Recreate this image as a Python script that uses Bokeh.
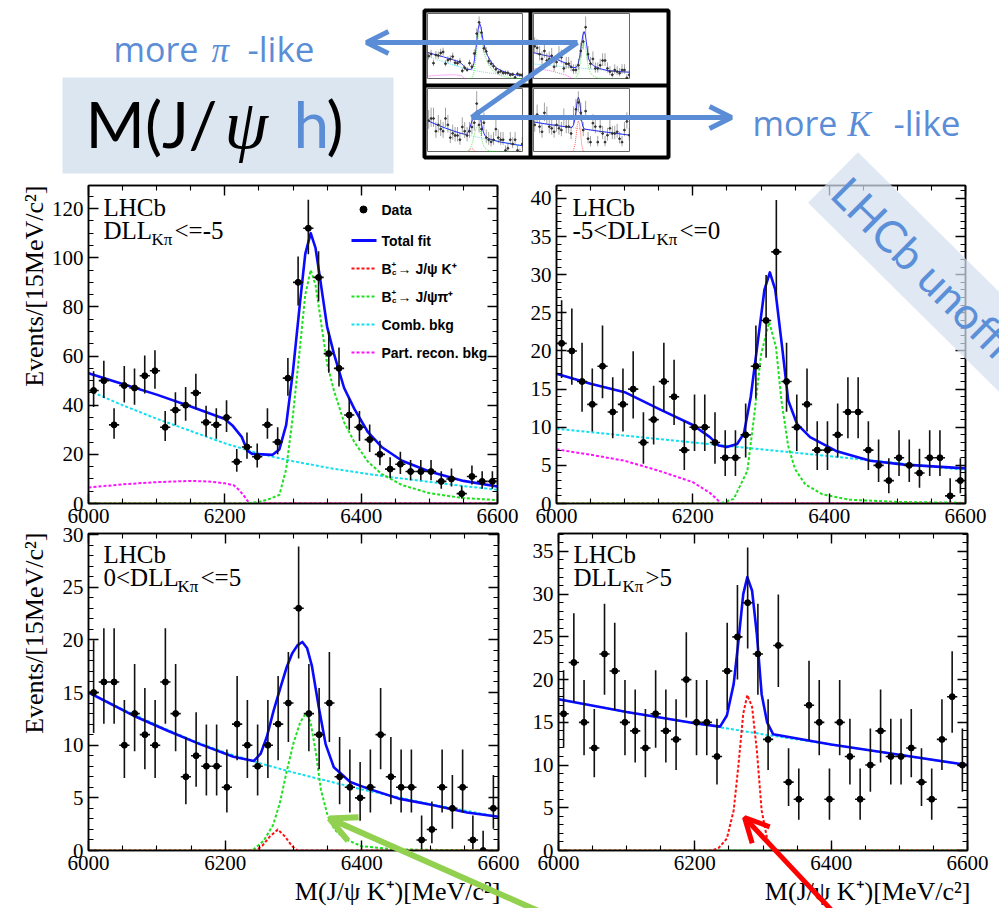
import numpy as np
from bokeh.plotting import figure
from bokeh.models import (Range1d, LinearAxis, SingleIntervalTicker, Label, Arrow,
                          OpenHead, Column)
from bokeh.embed import file_html
from bokeh.resources import INLINE

# ---------------- data ----------------
mass_bins = [6007.5, 6022.5, 6037.5, 6052.5, 6067.5, 6082.5, 6097.5, 6112.5, 6127.5, 6142.5,
             6157.5, 6172.5, 6187.5, 6202.5, 6217.5, 6232.5, 6247.5, 6262.5, 6277.5, 6292.5,
             6307.5, 6322.5, 6337.5, 6352.5, 6367.5, 6382.5, 6397.5, 6412.5, 6427.5, 6442.5,
             6457.5, 6472.5, 6487.5, 6502.5, 6517.5, 6532.5, 6547.5, 6562.5, 6577.5, 6592.5]
bin_half_width = 7.5

counts_p1 = [46, 50, 32, 48, 47, 52, 54, 31, 38, 40, 45, 33, 32, 35, 17, 23, 19, 32, 25, 51,
             90, 112, 92, 61, 55, 36, 31, 26, 20, 14, 16, 13, 13, 13, 9, 10, 4, 11, 9, 9]
counts_p2 = [21, 20, 16, 13, 18, 12, 13, 15, 8, 11, 16, 14, 7, 10, 10, 8, 6, 6, 9, 18,
             24, 33, 16, 10, 13, 7, 7, 9, 12, 12, 7, 5, 3, 6, 5, 4, 6, 6, 1, 3]
counts_p3 = [15, 16, 16, 10, 13, 11, 10, 16, 13, 7, 9, 8, 8, 6, 12, 10, 8, 10, 12, 14,
             23, 13, 11, 14, 7, 6, 5, 6, 11, 7, 6, 6, 1, 2, 6, 4, 6, 1, 0, 4]
counts_p4 = [16, 22, 15, 12, 23, 21, 15, 14, 12, 16, 14, 13, 20, 15, 15, 11, 21, 25, 29, 23,
             13, 24, 8, 6, 17, 15, 6, 15, 11, 6, 10, 14, 11, 11, 12, 8, 6, 13, 18, 10]

# panel 1 (DLL <= -5)
fit_p1_x = [6000, 6050, 6100, 6150, 6200, 6212, 6225, 6233, 6240, 6255, 6270, 6280, 6290, 6300, 6310,
            6318, 6326, 6333, 6340, 6350, 6360, 6375, 6390, 6410, 6430, 6460, 6500, 6550, 6600]
fit_p1_y = [53, 48.6, 44.3, 39.5, 34.4, 31.5, 27, 21.5, 20.2, 20, 19.8, 22, 32, 54, 81,
            101.6, 110, 104, 91, 72, 61, 47, 38.5, 29, 23, 17.4, 13, 9.2, 6.9]
comb_p1_x = [6000, 6050, 6100, 6150, 6200, 6250, 6300, 6350, 6400, 6450, 6500, 6550, 6600]
comb_p1_y = [46, 40, 34.5, 29.5, 24.5, 20.3, 17.2, 14.6, 12.4, 10.5, 8.8, 7.1, 5.6]
part_p1_x = [6000, 6050, 6100, 6150, 6180, 6200, 6213, 6222, 6230, 6236, 6600]
part_p1_y = [6.5, 7.8, 8.7, 9.2, 8.9, 8.2, 7.4, 5.2, 2.4, 0, 0]
pi_p1_x = [6000, 6230, 6250, 6265, 6280, 6290, 6300, 6310, 6318, 6326, 6333, 6340, 6350, 6360,
           6375, 6390, 6410, 6430, 6460, 6500, 6550, 6600]
pi_p1_y = [0, 0, 0.6, 1.8, 3.5, 14, 36, 63, 85, 95, 89, 76, 57, 46, 33, 25, 17, 12, 7.5, 4.2, 2.2, 1.4]
k_p1_x = [6000, 6600]
k_p1_y = [0, 0]

# panel 2 (-5 < DLL <= 0)
fit_p2_x = [6000, 6050, 6100, 6150, 6200, 6225, 6238, 6250, 6265, 6275, 6285, 6295, 6305, 6313,
            6321, 6331, 6340, 6353, 6372, 6410, 6460, 6510, 6600]
fit_p2_y = [17, 15.7, 14.6, 12.4, 10.3, 8.7, 7.6, 7.4, 7.8, 9.2, 14, 21, 28, 30.3,
            28, 20.5, 13.5, 10.4, 8.7, 6.9, 5.6, 5.1, 4.6]
comb_p2_x = [6000, 6100, 6200, 6300, 6400, 6500, 6600]
comb_p2_y = [9.8, 8.9, 8.0, 7.1, 6.2, 5.3, 4.4]
part_p2_x = [6000, 6050, 6100, 6150, 6200, 6225, 6242, 6600]
part_p2_y = [7.1, 6.4, 5.6, 4.3, 2.8, 1.4, 0, 0]
pi_p2_x = [6000, 6240, 6260, 6280, 6290, 6300, 6312, 6322, 6330, 6340, 6350, 6365, 6390, 6430, 6500, 6600]
pi_p2_y = [0, 0, 0.6, 4.3, 11.5, 19.5, 23.8, 20.5, 13.5, 7.5, 4.5, 2.5, 1.2, 0.5, 0.2, 0.1]
k_p2_x = [6000, 6600]
k_p2_y = [0, 0]

# panel 3 (0 < DLL <= 5)
fit_p3_x = [6000, 6066, 6115, 6163, 6212, 6242, 6252, 6261, 6271, 6281, 6290, 6298, 6306, 6313,
            6320, 6327, 6337, 6347, 6359, 6383, 6408, 6456, 6505, 6554, 6600]
fit_p3_y = [15, 12.8, 11.4, 10.1, 8.9, 8.5, 9.2, 10.8, 13.3, 15.5, 17.4, 18.7, 19.5, 19.8,
            19.2, 17.5, 13.6, 10.1, 7.9, 6.5, 5.9, 4.9, 4.3, 3.6, 3.2]
comb_p3_x = [6000, 6050, 6100, 6150, 6200, 6250, 6300, 6350, 6400, 6450, 6500, 6550, 6600]
comb_p3_y = [15, 13.4, 11.9, 10.5, 9.3, 8.3, 7.4, 6.6, 5.8, 5.1, 4.4, 3.8, 3.2]
pi_p3_x = [6000, 6240, 6256, 6270, 6280, 6290, 6300, 6310, 6318, 6325, 6333, 6340, 6350, 6360,
           6375, 6400, 6450, 6600]
pi_p3_y = [0, 0, 0.9, 2.4, 4.5, 7.5, 10.2, 12.2, 13, 12.2, 9.2, 5.8, 3.3, 2.0, 1.1, 0.4, 0.1, 0]
k_p3_x = [6000, 6245, 6255, 6265, 6277, 6288, 6298, 6306, 6600]
k_p3_y = [0, 0, 0.5, 1.3, 2.0, 1.3, 0.4, 0, 0]

# panel 4 (DLL > 5)
fit_p4_x = [6000, 6100, 6200, 6237, 6247, 6257, 6264, 6271, 6277, 6284, 6291, 6298, 6306, 6315,
            6400, 6500, 6600]
fit_p4_y = [17.7, 16.2, 14.9, 14.5, 15.8, 19.5, 24.5, 30, 32, 30.4, 25.3, 18.3, 15.0, 13.6,
            12.4, 11.2, 10.0]
comb_p4_x = [6000, 6100, 6200, 6300, 6400, 6500, 6600]
comb_p4_y = [17.7, 16.2, 14.9, 13.6, 12.4, 11.2, 10.0]
k_p4_x = [6000, 6225, 6235, 6247, 6257, 6264, 6271, 6277, 6284, 6291, 6298, 6306, 6315, 6600]
k_p4_y = [0, 0, 0.3, 1.4, 4.7, 10, 16, 18.2, 16.8, 11.7, 4.7, 1.4, 0, 0]
pi_p4_x = [6000, 6600]
pi_p4_y = [0, 0]

# ---------------- style ----------------
W, H = 999, 908
SERIF = "Liberation Serif"
SANS = "Liberation Sans"
SLIDE = "Open Sans"
C_BLUE = "#0a0aff"
C_RED = "#ff1010"
C_GREEN = "#1ee01e"
C_CYAN = "#10e0f0"
C_MAG = "#ff10ff"
SLIDE_BLUE = "#5b8dd6"
DOT = "3 2"
MID = {"Lato": 0.39, SERIF: 0.34, SANS: 0.35, SLIDE: 0.39}


def curves_for(i):
    if i == 0:
        return [(k_p1_x, k_p1_y, C_RED, DOT), (part_p1_x, part_p1_y, C_MAG, DOT),
                (comb_p1_x, comb_p1_y, C_CYAN, DOT), (pi_p1_x, pi_p1_y, C_GREEN, DOT),
                (fit_p1_x, fit_p1_y, C_BLUE, "solid")]
    if i == 1:
        return [(k_p2_x, k_p2_y, C_RED, DOT), (part_p2_x, part_p2_y, C_MAG, DOT),
                (comb_p2_x, comb_p2_y, C_CYAN, DOT), (pi_p2_x, pi_p2_y, C_GREEN, DOT),
                (fit_p2_x, fit_p2_y, C_BLUE, "solid")]
    if i == 2:
        return [(comb_p3_x, comb_p3_y, C_CYAN, DOT), (pi_p3_x, pi_p3_y, C_GREEN, DOT),
                (k_p3_x, k_p3_y, C_RED, DOT), (fit_p3_x, fit_p3_y, C_BLUE, "solid")]
    return [(pi_p4_x, pi_p4_y, C_GREEN, DOT), (comb_p4_x, comb_p4_y, C_CYAN, DOT),
            (k_p4_x, k_p4_y, C_RED, DOT), (fit_p4_x, fit_p4_y, C_BLUE, "solid")]


all_counts = [counts_p1, counts_p2, counts_p3, counts_p4]
ytops = [129.4, 41.7, 30.1, 37.1]
yints = [20, 5, 5, 5]
yminor = [4, 5, 5, 5]


def draw_data(p, i, mini):
    for cx, cy, col, dash in curves_for(i):
        if mini:
            lw = 1.0 if dash == "solid" else 0.8
            dd = "solid" if dash == "solid" else "1 1"
        else:
            lw = 2.6 if dash == "solid" else 2.0
            dd = dash
        p.line(cx, cy, line_color=col, line_width=lw, line_dash=dd, line_join="round",
               line_alpha=(0.85 if mini else 1.0))
    n = np.array(all_counts[i], dtype=float)
    x = np.array(mass_bins)
    lo = np.where(n > 0, np.sqrt(np.clip(n - 0.25, 0, None)), 0.0)
    hi = 1.0 + np.sqrt(n + 0.75)
    elw = 1.6 if not mini else 0.5
    ecol = "#111111" if not mini else "#444444"
    p.segment(x, n - lo, x, n + hi, line_color=ecol, line_width=elw)
    p.segment(x - bin_half_width, n, x + bin_half_width, n, line_color=ecol, line_width=elw)
    p.scatter(x, n, size=(6 if not mini else 1.8), color=("#000000" if not mini else "#333333"))


def add_axis(p, side, interval, nminor, labels):
    ax = LinearAxis(ticker=SingleIntervalTicker(interval=interval, num_minor_ticks=nminor))
    ax.major_tick_in = 10
    ax.major_tick_out = 0
    ax.minor_tick_in = 5
    ax.minor_tick_out = 0
    ax.axis_line_color = "black"
    ax.axis_line_width = 1.5
    ax.major_tick_line_color = "black"
    ax.major_tick_line_width = 1.4
    ax.minor_tick_line_color = "black"
    ax.minor_tick_line_width = 1.1
    if labels:
        ax.major_label_text_font = SERIF
        ax.major_label_text_font_size = "21px"
        ax.major_label_text_color = "black"
        ax.major_label_standoff = 5
    else:
        ax.major_label_text_font_size = "1px"
        ax.major_label_text_color = None
        ax.major_label_standoff = 0
    p.add_layout(ax, side)


def base_fig(**kw):
    f = figure(output_backend="svg", toolbar_location=None, x_axis_location=None,
               y_axis_location=None, **kw)
    f.frame_align = False
    f.grid.visible = False
    f.border_fill_alpha = 0
    return f


geo = [  # left, top, width, height, border l, r, t, b
    (0, 170, 520, 365, 88, 23, 15, 32),
    (520, 170, 479, 365, 36, 34, 15, 32),
    (0, 518, 520, 390, 88, 22, 15, 58),
    (520, 518, 479, 390, 38, 32, 15, 58),
]

panels = []
for i in range(4):
    L, T, w, h, bl, br, bt, bb = geo[i]
    p = base_fig(width=w, height=h, x_range=Range1d(6000, 6600), y_range=Range1d(0, ytops[i]),
                 min_border_left=bl, min_border_right=br, min_border_top=bt, min_border_bottom=bb)
    p.background_fill_color = "white"
    p.outline_line_color = "black"
    p.outline_line_width = 1.5
    add_axis(p, "below", 200, 4, True)
    add_axis(p, "left", yints[i], yminor[i], True)
    add_axis(p, "above", 200, 4, False)
    add_axis(p, "right", yints[i], yminor[i], False)
    draw_data(p, i, False)
    p.styles = {"position": "absolute", "left": f"{L}px", "top": f"{T}px"}
    panels.append(p)

mini_geo = [(427, 13, 96, 66), (533, 13, 97, 66), (427, 88, 96, 64), (533, 88, 97, 64)]
minis = []
for i in range(4):
    L, T, w, h = mini_geo[i]
    m = base_fig(width=w, height=h, x_range=Range1d(6000, 6600), y_range=Range1d(0, ytops[i]),
                 min_border_left=0, min_border_right=0, min_border_top=0, min_border_bottom=0)
    m.background_fill_color = "white"
    m.outline_line_color = "#666666"
    m.outline_line_width = 1
    draw_data(m, i, True)
    m.styles = {"position": "absolute", "left": f"{L}px", "top": f"{T}px"}
    minis.append(m)

# ---------------- overlay (slide decorations) ----------------
ov = base_fig(width=W, height=H, x_range=Range1d(0, W), y_range=Range1d(0, H),
              min_border_left=0, min_border_right=0, min_border_top=0, min_border_bottom=0)
ov.background_fill_alpha = 0
ov.outline_line_color = None
ov.styles = {"position": "absolute", "left": "0px", "top": "0px"}


def lab(x, y, text, size, color="black", font=SERIF, style="normal", align="left",
        baseline="alphabetic", angle=0.0):
    # y is given in page pixels from the top; 'alphabetic' means y is the baseline
    if baseline == "alphabetic":
        y = y - MID.get(font, 0.35) * size
    ov.add_layout(Label(x=x, y=H - y, text=text, text_font=font, text_font_size=f"{size}px",
                        text_color=color, text_font_style=style, text_align=align,
                        text_baseline="middle", angle=angle, angle_units="rad"))


def arrow(x0, y0, x1, y1, color, lw, head=True, dash="solid", hs=20):
    end = OpenHead(size=hs, line_color=color, line_width=lw) if head else None
    ov.add_layout(Arrow(end=end, x_start=x0, y_start=H - y0, x_end=x1, y_end=H - y1,
                        line_color=color, line_width=lw, line_dash=dash))


# title box
ov.quad(left=[62], right=[393], top=[H - 77], bottom=[H - 173], fill_color="#dce6f1", line_color=None)
lab(85, 148, "M(J/", 64, font="Lato")
lab(224, 148, "ψ", 70, font=SERIF, style="italic")
lab(293, 148, "h", 64, color=SLIDE_BLUE, font="Lato")
lab(326, 148, ")", 64, font="Lato")

lab(113, 62, "more", 34, color=SLIDE_BLUE, font=SLIDE)
lab(211, 62, "π", 35, color=SLIDE_BLUE, font=SERIF, style="italic")
lab(247, 62, "-like", 35, color=SLIDE_BLUE, font=SLIDE)
lab(752, 136, "more", 34, color=SLIDE_BLUE, font=SLIDE)
lab(847, 136, "K", 35, color=SLIDE_BLUE, font=SERIF, style="italic")
lab(893, 136, "-like", 35, color=SLIDE_BLUE, font=SLIDE)

# thumbnail frame
ov.quad(left=[424], right=[668], top=[H - 10], bottom=[H - 157], fill_color=None,
        line_color="black", line_width=4)
ov.segment(x0=[530, 424], y0=[H - 10, H - 85], x1=[530, 668], y1=[H - 157, H - 85],
           line_color="black", line_width=4)

# Z arrow
arrow(577, 42, 366, 42, SLIDE_BLUE, 5, hs=22)
arrow(577, 42, 471, 117, SLIDE_BLUE, 5, head=False)
arrow(471, 117, 731, 117, SLIDE_BLUE, 5, hs=22)

# panel texts
txt_pos = [(103, 215, 238, "DLL", 151, "<=-5", 174),
           (572, 215, 238, "-5<DLL", 656, "<=0", 679),
           (103, 562, 585, "0<DLL", 177, "<=5", 200),
           (573, 562, 585, "DLL", 622, ">5", 645)]
for (x0, yl, yd, pre, xs, suf, xsuf) in txt_pos:
    lab(x0, yl, "LHCb", 25)
    lab(x0, yd, pre, 25)
    lab(xs, yd + 7, "Kπ", 17)
    lab(xsuf, yd, suf, 25)

# axis titles
lab(34, 185, "Events/[15MeV/c²]", 26, align="right", baseline="middle", angle=np.pi / 2)
lab(34, 532, "Events/[15MeV/c²]", 26, align="right", baseline="middle", angle=np.pi / 2)
lab(500, 900, "M(J/ψ K⁺)[MeV/c²]", 26, align="right")
lab(970, 900, "M(J/ψ K⁺)[MeV/c²]", 26, align="right")

# legend of panel 1
ov.scatter(x=[363], y=[H - 209], size=7, color="black")
lab(381, 209, "Data", 14, font=SANS, style="bold", baseline="middle")
arrow(351, 240, 376, 240, C_BLUE, 3, head=False)
lab(381, 240, "Total fit", 14, font=SANS, style="bold", baseline="middle")
for yy, col, tail in [(268, C_RED, "→ J/ψ K⁺"), (296, C_GREEN, "→ J/ψπ⁺")]:
    arrow(351, yy, 376, yy, col, 2.2, head=False, dash=DOT)
    lab(381, yy, "B", 14, font=SANS, style="bold", baseline="middle")
    lab(391, yy - 4, "+", 8, font=SANS, style="bold", baseline="middle")
    lab(391.5, yy + 4, "c", 8, font=SANS, style="bold", baseline="middle")
    lab(397, yy, tail, 14, font=SANS, style="bold", baseline="middle")
arrow(351, 324, 376, 324, C_CYAN, 2.2, head=False, dash=DOT)
lab(381, 324, "Comb. bkg", 14, font=SANS, style="bold", baseline="middle")
arrow(351, 352, 376, 352, C_MAG, 2.2, head=False, dash=DOT)
lab(381, 352, "Part. recon. bkg", 14, font=SANS, style="bold", baseline="middle")

# watermark
ang = -0.78
dx, dy = np.cos(ang), np.sin(ang)
sx, sy = 832.5, H - 177
ov.rect(x=[sx + 210 * dx], y=[sy + 210 * dy], width=[420], height=[71], angle=[ang],
        fill_color="#d3dfee", fill_alpha=0.72, line_color=None)
ov.add_layout(Label(x=sx + 10 * dx, y=sy + 10 * dy, text="LHCb unofficial", text_font="Lato",
                    text_font_size="44px", text_color="#5b8fd8", text_align="left",
                    text_baseline="middle", angle=ang, angle_units="rad"))

# pointer arrows
arrow(548, 915, 329, 818, "#92d050", 6, hs=26)
arrow(836, 915, 744, 817, "#ff0000", 5, hs=24)

root = Column(children=panels + minis + [ov], width=W, height=H, sizing_mode="fixed",
              styles={"position": "relative", "background-color": "white", "overflow": "hidden"})

open("out.html", "w").write(file_html(root, INLINE, title="Bc to J/psi h"))
